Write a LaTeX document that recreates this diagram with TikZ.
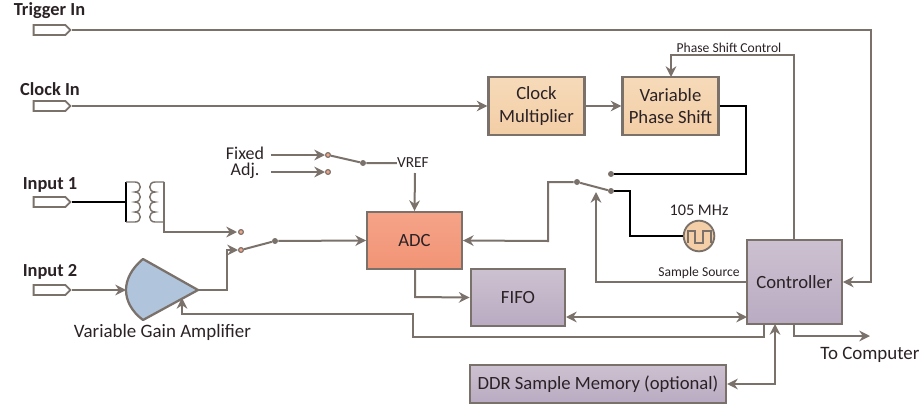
\documentclass[tikz,border=0pt]{standalone}
\usepackage{fontspec}
\setmainfont{Carlito}
\usetikzlibrary{arrows.meta,shapes.symbols}
\definecolor{wire}{HTML}{7A716A}
\definecolor{txt}{HTML}{2B2226}
\definecolor{peach}{HTML}{F6DAB9}
\definecolor{peachlow}{HTML}{F3CEA6}
\definecolor{adctop}{HTML}{F5A388}
\definecolor{adclow}{HTML}{F29476}
\definecolor{mauvetop}{HTML}{CCC1D0}
\definecolor{mauvelow}{HTML}{B9ABC2}
\definecolor{ampblue}{HTML}{B0C4DC}
\tikzset{
  block/.style={draw=wire, line width=1.7pt, text=txt, font=\fontsize{14}{17}\selectfont, align=center, inner sep=0pt},
  clockbox/.style={block, top color=peach, bottom color=peachlow},
  adcbox/.style={block, top color=adctop, bottom color=adclow},
  ctrlbox/.style={block, top color=mauvetop, bottom color=mauvelow},
  port/.style={shape=signal, signal to=east, signal pointer angle=90, draw=wire, fill=white, line width=1.4pt, minimum width=27.5pt, minimum height=7.5pt, inner sep=0pt},
  title/.style={text=txt, font=\fontsize{13.8}{16}\selectfont\bfseries, inner sep=0pt},
  lbl/.style={text=txt, font=\fontsize{14.2}{16}\selectfont, inner sep=0pt},
  small/.style={text=txt, font=\fontsize{10.2}{12}\selectfont, inner sep=0pt},
  pin/.style={circle, fill=wire, inner sep=0pt, minimum size=4.5pt},
  term/.style={circle, draw=wire, fill=adctop, line width=0.9pt, inner sep=0pt, minimum size=3.6pt},
  wired/.style={draw=wire, line width=1.5pt},
  hot/.style={draw=black, line width=1.6pt}
}
\begin{document}
\begin{tikzpicture}[x=0.75pt, y=-0.75pt, >={Stealth[length=8pt,width=8pt]}]
\useasboundingbox (0,0) rectangle (922,404);
% blocks
\node[clockbox, minimum width=72pt, minimum height=43pt] (mult) at (536.5,106) {Clock\\Multiplier};
\node[clockbox, minimum width=72pt, minimum height=43pt] (shift) at (670.5,106) {Variable\\Phase Shift};
\node[adcbox, minimum width=71pt, minimum height=42.5pt] (adc) at (414.5,240.5) {ADC};
\node[ctrlbox, minimum width=71pt, minimum height=42.5pt] (fifo) at (518,297.5) {FIFO};
\node[ctrlbox, minimum width=71pt, minimum height=63pt] (ctrl) at (794.5,282) {Controller};
\node[ctrlbox, minimum width=192pt, minimum height=28pt] (ddr) at (598,384) {DDR Sample Memory (optional)};
% inputs
\node[title] (ttrig) at (49.5,11) {Trigger In};
\node[title] (tclk) at (50,89) {Clock In};
\node[title] (tin1) at (50,185) {Input 1};
\node[title] (tin2) at (50,272) {Input 2};
\node[port] (trig) at (49.5,30) {};
\node[port] (clk) at (49.5,106) {};
\node[port] (inone) at (49.5,202) {};
\node[port] (intwo) at (49.5,290) {};
% amplifier
\coordinate (ampin) at (126,290); \coordinate (ampout) at (198,290); \coordinate (ampgain) at (182,298);
\draw[wired, line width=1.7pt, fill=ampblue, line join=round] (ampout) -- (143,259) .. controls (131,269) and (126,280) .. (ampin) .. controls (126,300) and (131,311) .. (143,320) -- cycle;
\node[lbl] (amplbl) at (162.5,332) {Variable Gain Amplifier};
% transformer
\coordinate (xfin) at (126,202); \coordinate (xfout) at (164,222);
\draw[hot] (126,182) -- (126,222);
\draw[wired, line width=1.1pt] (126,182) -- (135,182) \foreach \y in {182,192,202,212} { to[out=0,in=0,looseness=1.8] (135,\y+10) } -- (126,222);
\draw[wired, line width=1.1pt] (164,182) -- (155,182) \foreach \y in {182,192,202,212} { to[out=180,in=180,looseness=1.8] (155,\y+10) } -- (xfout);
\draw[wired, line width=1.1pt] (164,182) -- (xfout);
% switches
\node[term] (swa) at (241,232) {}; \node[term] (swb) at (241,250) {}; \node[pin] (swc) at (275,241) {};
\node[term] (vfix) at (328,155) {}; \node[term] (vadj) at (328,172) {}; \node[pin] (vc) at (363,163) {};
\node[pin] (sela) at (611,174) {}; \node[pin] (selb) at (611,191) {}; \node[pin] (selc) at (577,182) {};
\node[lbl, font=\fontsize{13.5}{12}\selectfont, align=center] (tsel) at (245,163) {Fixed\\Adj.};
\node[small, font=\fontsize{11.5}{13}\selectfont] (vref) at (413,163) {VREF};
\coordinate (fixa) at (271,155); \coordinate (adja) at (271,172);
% oscillator
\node[circle, draw=wire, fill=peachlow, line width=1.4pt, minimum size=23pt, inner sep=0pt] (osc) at (699,236) {};
\draw[wired] (688,243) -- (688,231) -- (695,231) -- (695,243) -- (703,243) -- (703,231) -- (711,231) -- (711,243);
\node[lbl, font=\fontsize{12.2}{14}\selectfont] (oscf) at (699,210) {105 MHz};
% wires
\coordinate (trigc) at (871,30); \coordinate (trige) at (871,282);
\draw[wired, ->] (trig.east) -- (trigc) -- (trige) -- (ctrl.east);
\foreach \a/\b in {clk/mult,mult/shift,intwo.east/ampin}
  \draw[wired, ->] (\a) -- (\b);
\draw[wired, ->] (794,240) -- (794,55) -- (671,55) -- (671,77);
\node[small] (tphase) at (729,48) {Phase Shift Control};
\draw[hot] (shift.east) -- (746,106) -- (746,174) -- (sela);
\draw[hot] (selb) -- (630,191) -- (630,236) -- (osc);
\draw[wired] (selc) -- (selb);
\draw[wired, ->] (selc) -- (548,182) -- (548,241) -- (adc.east);
\draw[wired, ->] (ctrl.west) -- (596,282) -- (596,192);
\node[small] (tsrc) at (699,273) {Sample Source};
\draw[wired, ->] (415,270) -- (415,297) -- (fifo.west);
\draw[wired, <->] (566,317) -- (747,317);
\draw[wired, ->] (764,324) -- (764,337) -- (413,337) -- (413,314) -- (182,314) -- (ampgain);
\coordinate (comp) at (870,336);
\draw[wired, ->] (794,324) -- (794,336) -- (comp);
\node[lbl] (tcomp) at (870,355) {To Computer};
\draw[wired, <->] (ddr.east) -- (775,384) -- (775,324);
\draw[hot] (inone.east) -- (xfin);
\draw[wired, ->] (xfout) -- (164,232) -- (237,232);
\draw[wired, ->] (ampout) -- (227,290) -- (227,250) -- (238,250);
\draw[wired] (swb) -- (swc);
\draw[wired, ->] (swc) -- (adc.west);
\draw[wired, ->] (fixa) -- (325,155);
\draw[wired, ->] (adja) -- (325,172);
\draw[wired] (vfix) -- (vc) -- (vref);
\draw[wired, ->] (415,173) -- (adc.north);
\end{tikzpicture}
\end{document}
